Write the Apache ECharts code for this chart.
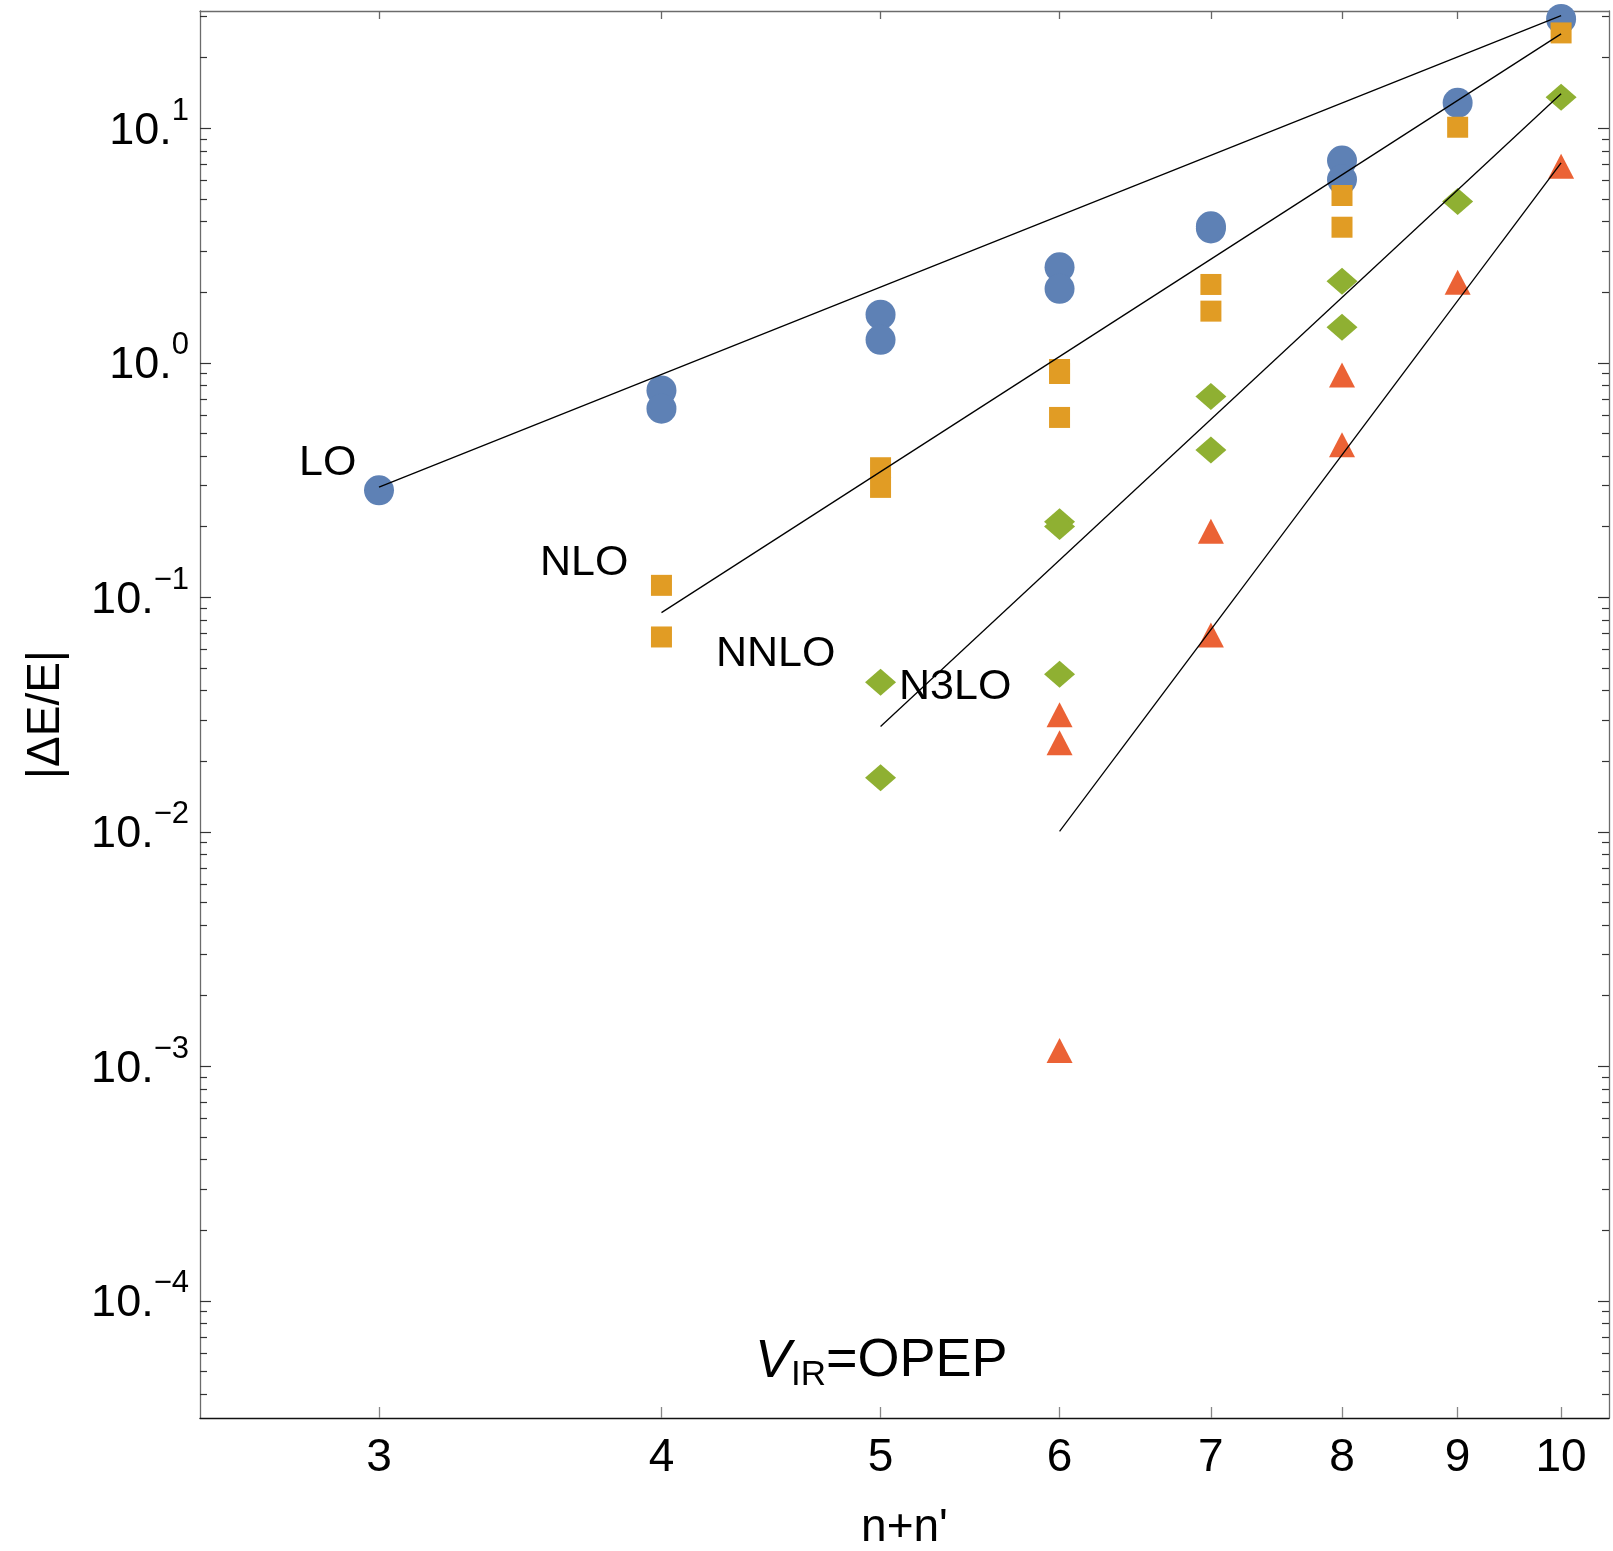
<!DOCTYPE html>
<html>
<head>
<meta charset="utf-8">
<script src="https://cdn.jsdelivr.net/npm/echarts@6/dist/echarts.min.js"></script>
<style>
  html, body { margin: 0; padding: 0; background: #fff; }
  #chart { width: 1613px; height: 1551px; }
</style>
</head>
<body>
<div id="chart"></div>
<script>
// axis ticks
const xTicks = [3, 4, 5, 6, 7, 8, 9, 10];
const yMajorTicks = [1e-4, 1e-3, 1e-2, 1e-1, 1, 10];
const yMinorMantissas = [2, 3, 4, 5, 6, 7, 8, 9];
const xRange = [2.5, 10.5];
const yRange = [Math.pow(10, -4.5), Math.pow(10, 1.5)];

// LO (blue circles)
const loX = [3, 4, 4, 5, 5, 6, 6, 7, 7, 8, 8, 9, 10];
const loY = [0.2856, 0.762, 0.637, 1.603, 1.252, 2.554, 2.067, 3.74, 3.82, 7.283, 6.043, 12.83, 29.26];
// NLO (orange squares)
const nloX = [4, 4, 5, 5, 6, 6, 6, 7, 7, 8, 8, 9, 10];
const nloY = [0.1124, 0.0677, 0.3567, 0.2941, 0.936, 0.900, 0.5845, 2.157, 1.66, 5.166, 3.784, 10.1, 25.5];
// NNLO (green diamonds)
const nnloX = [5, 5, 6, 6, 6, 7, 7, 8, 8, 9, 10];
const nnloY = [0.0434, 0.0170, 0.2101, 0.2005, 0.0469, 0.7185, 0.4249, 2.227, 1.418, 4.87, 13.56];
// N3LO (red triangles)
const n3loX = [6, 6, 6, 7, 7, 8, 8, 9, 10];
const n3loY = [0.03155, 0.02397, 0.001168, 0.191, 0.069, 0.887, 0.4467, 2.206, 6.887];

// fitted power-law lines
const loFitX = [3, 10];
const loFitY = [0.295, 30.22];
const nloFitX = [4, 10];
const nloFitY = [0.086, 25.26];
const nnloFitX = [5, 10];
const nnloFitY = [0.02811, 14.02];
const n3loFitX = [6, 10];
const n3loFitY = [0.01003, 7.12];

const FONT = "'Liberation Sans', Arial, Helvetica, sans-serif";
const FRAME = '#6b6b6b';

const zip = (xs, ys) => xs.map((x, i) => [x, ys[i]]);

const yMinorTicks = [];
for (let e = -5; e <= 1; e++) {
  yMinorMantissas.forEach(m => {
    const v = m * Math.pow(10, e);
    if (v > yRange[0] && v < yRange[1]) yMinorTicks.push(v);
  });
}

const chartDom = document.getElementById('chart');
const myChart = echarts.init(chartDom);

const yLabelFormatter = v => {
  const e = Math.round(Math.log10(v));
  const exp = e < 0 ? '\u2212' + (-e) : String(e);
  return '{b|10.}{s|' + exp + '}';
};

const tickAxisY = (position, values, length, showLabel) => ({
  type: 'log',
  position: position,
  min: yRange[0],
  max: yRange[1],
  axisLine: { show: showLabel !== undefined, onZero: false, lineStyle: { color: FRAME, width: 1.3 } },
  axisTick: { show: true, inside: true, length: length, customValues: values, lineStyle: { color: '#333', width: 1.2 } },
  axisLabel: showLabel ? {
    show: true,
    customValues: values,
    margin: 11,
    formatter: yLabelFormatter,
    rich: {
      b: { fontFamily: FONT, fontSize: 45, lineHeight: 45, color: '#000', padding: [6, 0, 0, 0] },
      s: { fontFamily: FONT, fontSize: 31, lineHeight: 31, color: '#000', padding: [0, 0, 34, 0] }
    }
  } : { show: false },
  splitLine: { show: false },
  minorTick: { show: false }
});

const scatter = (name, xs, ys, symbol, size, color) => ({
  name: name,
  type: 'scatter',
  data: zip(xs, ys),
  symbol: symbol,
  symbolSize: size,
  itemStyle: { color: color, opacity: 1 },
  z: 2,
  silent: true
});

const fitLine = (xs, ys) => ({
  type: 'line',
  data: zip(xs, ys),
  symbol: 'none',
  lineStyle: { color: '#000', width: 1.3 },
  z: 5,
  silent: true
});

const label = (text, left, top) => ({
  type: 'text', left: left, top: top,
  style: { text: text, font: '43px ' + FONT, fill: '#000' }
});

const option = {
  animation: false,
  backgroundColor: '#fff',
  grid: { left: 200, right: 4, top: 11, bottom: 133, containLabel: false, outerBoundsMode: 'none' },
  xAxis: [
    {
      type: 'log',
      position: 'bottom',
      min: xRange[0],
      max: xRange[1],
      name: "n+n'",
      nameLocation: 'middle',
      nameGap: 87,
      nameTextStyle: { fontFamily: FONT, fontSize: 46, color: '#000' },
      axisLine: { onZero: false, lineStyle: { color: '#111', width: 1.4 } },
      axisTick: { inside: true, length: 11, customValues: xTicks, lineStyle: { color: '#888', width: 1.3 } },
      axisLabel: {
        customValues: xTicks,
        margin: 17,
        fontFamily: FONT,
        fontSize: 46,
        color: '#000',
        formatter: v => String(Math.round(v))
      },
      splitLine: { show: false },
      minorTick: { show: false }
    },
    {
      type: 'log',
      position: 'top',
      min: xRange[0],
      max: xRange[1],
      axisLine: { onZero: false, lineStyle: { color: FRAME, width: 1.3 } },
      axisTick: { inside: true, length: 8, customValues: xTicks, lineStyle: { color: '#666', width: 1.3 } },
      axisLabel: { show: false },
      splitLine: { show: false }
    }
  ],
  yAxis: [
    Object.assign(tickAxisY('left', yMajorTicks, 11, true), {
      name: '|\u0394E/E|',
      nameLocation: 'middle',
      nameGap: 131,
      nameRotate: 90,
      nameTextStyle: { fontFamily: FONT, fontSize: 46, color: '#000' }
    }),
    tickAxisY('left', yMinorTicks, 7),
    tickAxisY('right', yMajorTicks, 11, false),
    tickAxisY('right', yMinorTicks, 7)
  ],
  series: [
    scatter('LO', loX, loY, 'circle', 30, '#5E81B5'),
    scatter('NLO', nloX, nloY, 'rect', 21, '#E19C24'),
    scatter('NNLO', nnloX, nnloY, 'diamond', [31, 27], '#8FB032'),
    scatter('N3LO', n3loX, n3loY, 'triangle', [26, 25], '#EB6235'),
    fitLine(loFitX, loFitY),
    fitLine(nloFitX, nloFitY),
    fitLine(nnloFitX, nnloFitY),
    fitLine(n3loFitX, n3loFitY)
  ],
  graphic: [
    label('LO', 299, 442),
    label('NLO', 540, 542),
    label('NNLO', 716, 633),
    label('N3LO', 899, 666),
    {
      type: 'text',
      left: 755,
      top: 1330,
      style: {
        text: '{v|V}{i|IR}{n|=OPEP}',
        rich: {
          v: { fontFamily: FONT, fontSize: 54, lineHeight: 54, fontStyle: 'italic', fill: '#000' },
          i: { fontFamily: FONT, fontSize: 35, lineHeight: 35, fill: '#000', padding: [28, 0, 0, 0] },
          n: { fontFamily: FONT, fontSize: 54, lineHeight: 54, fill: '#000' }
        }
      }
    }
  ]
};

myChart.setOption(option);

const handleResize = () => myChart.resize();
window.addEventListener('resize', handleResize);
</script>
</body>
</html>
